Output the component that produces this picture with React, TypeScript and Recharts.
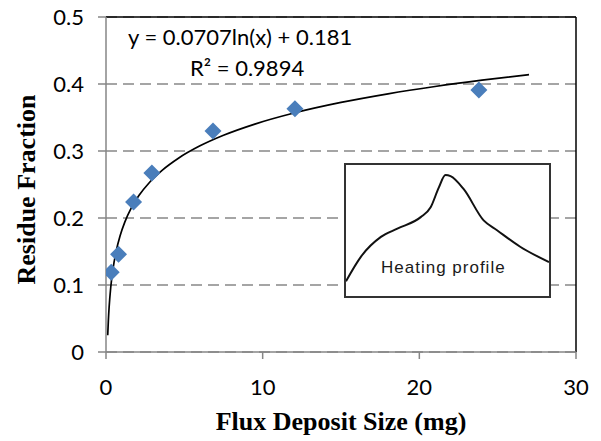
import {
  ComposedChart,
  LineChart,
  Line,
  Scatter,
  XAxis,
  YAxis,
  CartesianGrid,
  ReferenceLine,
  Label,
} from 'recharts'

// measured points (flux deposit mg, residue fraction)
const depositSize = [0.33, 0.8, 1.76, 2.93, 6.83, 12.06, 23.8]
const residueFraction = [0.119, 0.146, 0.224, 0.267, 0.33, 0.363, 0.391]

// log trendline as printed on the chart: y = 0.0707ln(x) + 0.181
const FIT_A = 0.0707
const FIT_B = 0.181
const fitX = [0.11, 0.15, 0.2, 0.3, 0.45, 0.65, 0.9, 1.2, 1.6, 2.1, 2.8, 3.6, 4.6, 6, 7.5, 9.5, 12, 15, 18, 21, 24, 27]

const xTicks = [0, 10, 20, 30]
const yTicks = [0, 0.1, 0.2, 0.3, 0.4, 0.5]

// inset heating profile (arbitrary units 0-100)
const profileT = [0, 7.4, 17.2, 25.3, 36.8, 41.7, 45.7, 49, 51.5, 58, 67.8, 74.4, 85.8, 100]
const profileH = [11.3, 30.1, 45.1, 51.4, 60.2, 67.7, 82.7, 92.3, 91.5, 81.5, 57.7, 50.2, 37.6, 25.9]

const points = depositSize.map((x, i) => ({ x, y: residueFraction[i] }))
const fitLine = fitX.map((x) => ({ x, fit: FIT_A * Math.log(x) + FIT_B }))
const profile = profileT.map((t, i) => ({ t, h: profileH[i] }))

const BLUE = '#4a7ebb'
const AXIS_GRAY = '#868686'
const TICK_FONT = 'Lato, "Open Sans", sans-serif'
const SERIF = '"Liberation Serif", "Times New Roman", serif'

const Diamond = (props: any) => {
  const { cx, cy } = props
  if (cx == null || cy == null) return null
  const r = 8.5
  return (
    <polygon
      points={`${cx},${cy - r} ${cx + r},${cy} ${cx},${cy + r} ${cx - r},${cy}`}
      fill={BLUE}
    />
  )
}

export default function App() {
  return (
    <div
      style={{
        position: 'absolute',
        left: 0,
        top: 0,
        width: 601,
        height: 441,
        background: '#fff',
      }}
    >
      <ComposedChart
        width={601}
        height={441}
        margin={{ top: 17, right: 25, left: 0, bottom: 0 }}
      >
        <CartesianGrid
          horizontal
          vertical={false}
          stroke="#888"
          strokeWidth={1.7}
          strokeDasharray="11 6"
        />
        <XAxis
          dataKey="x"
          type="number"
          domain={[0, 30]}
          ticks={xTicks}
          height={89}
          stroke={AXIS_GRAY}
          strokeWidth={1.5}
          tickSize={7}
          tickMargin={20}
          tick={{ fill: '#000', fontSize: 22, fontFamily: TICK_FONT }}
          allowDataOverflow
        >
          <Label
            value="Flux Deposit Size (mg)"
            position="insideBottom"
            offset={11}
            style={{
              fontFamily: SERIF,
              fontWeight: 'bold',
              fontSize: 26,
              fill: '#000',
            }}
          />
        </XAxis>
        <YAxis
          type="number"
          domain={[0, 0.5]}
          ticks={yTicks}
          width={106}
          stroke={AXIS_GRAY}
          strokeWidth={1.5}
          tickSize={8}
          tickMargin={14}
          tick={{ fill: '#000', fontSize: 22, fontFamily: TICK_FONT }}
          allowDataOverflow
        >
          <Label
            content={({ viewBox }: any) => {
              const cy = viewBox.y + viewBox.height / 2 + 5
              return (
                <text
                  x={26}
                  y={cy}
                  transform={`rotate(-90 26 ${cy})`}
                  textAnchor="middle"
                  dominantBaseline="central"
                  style={{
                    fontFamily: SERIF,
                    fontWeight: 'bold',
                    fontSize: 26,
                    fill: '#000',
                  }}
                >
                  Residue Fraction
                </text>
              )
            }}
          />
        </YAxis>
        <ReferenceLine y={0.5} stroke="#000" strokeWidth={1.5} />
        <ReferenceLine x={30} stroke="#000" strokeWidth={1.5} />
        <Scatter
          data={points}
          dataKey="y"
          shape={<Diamond />}
          isAnimationActive={false}
        />
        <Line
          data={fitLine}
          dataKey="fit"
          type="monotone"
          stroke="#000"
          strokeWidth={1.7}
          dot={false}
          activeDot={false}
          isAnimationActive={false}
        />
      </ComposedChart>

      <div
        style={{
          position: 'absolute',
          left: 128,
          top: 26,
          fontFamily: TICK_FONT,
          fontSize: 22,
          lineHeight: '22px',
          whiteSpace: 'nowrap',
          color: '#000',
        }}
      >
        y = 0.0707ln(x) + 0.181
      </div>
      <div
        style={{
          position: 'absolute',
          left: 190,
          top: 57,
          fontFamily: TICK_FONT,
          fontSize: 22,
          lineHeight: '22px',
          whiteSpace: 'nowrap',
          color: '#000',
        }}
      >
        R² = 0.9894
      </div>

      <div
        style={{
          position: 'absolute',
          left: 344,
          top: 163,
          width: 203,
          height: 131,
          border: '2px solid #333',
          background: '#fff',
        }}
      >
        <LineChart
          width={203}
          height={131}
          data={profile}
          margin={{ top: 0, right: 0, bottom: 0, left: 0 }}
        >
          <XAxis dataKey="t" type="number" domain={[0, 100]} hide />
          <YAxis type="number" domain={[0, 100]} hide />
          <Line
            dataKey="h"
            type="monotone"
            stroke="#111"
            strokeWidth={2}
            dot={false}
            activeDot={false}
            isAnimationActive={false}
          />
        </LineChart>
        <div
          style={{
            position: 'absolute',
            left: 35,
            top: 94,
            fontFamily: '"Liberation Sans", Arial, sans-serif',
            fontSize: 17,
            lineHeight: '18px',
            whiteSpace: 'nowrap',
            color: '#1a1a1a',
            letterSpacing: 1,
          }}
        >
          Heating profile
        </div>
      </div>
    </div>
  )
}
